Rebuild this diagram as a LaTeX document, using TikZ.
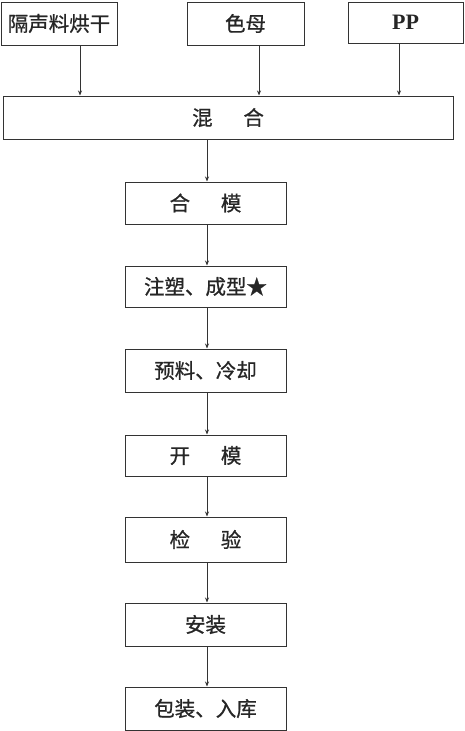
\documentclass[tikz,border=0pt]{standalone}
\usepackage{fontspec}
\setmainfont{Liberation Serif}
\newfontfamily\cjk[FakeBold=0.8]{Noto Sans CJK SC}
\usetikzlibrary{arrows.meta}
\begin{document}
\begin{tikzpicture}[x=1pt,y=-1pt,
  box/.style={draw=black!80,line width=1pt,rectangle,inner sep=0pt,font=\cjk\fontsize{20.5}{22}\selectfont,text=black!85},
  arr/.style={draw=black!80,line width=0.9pt,-{Stealth[length=5pt,width=4pt]}}]
\useasboundingbox (0,0) rectangle (465,731);
\node[box,minimum width=116pt,minimum height=43pt] (b1) at (59,23.5) {隔声料烘干};
\node[box,minimum width=117pt,minimum height=43pt] (b2) at (245.5,23.5) {色母};
\node[box,minimum width=115pt,minimum height=41pt,font=\bfseries\fontsize{22}{24}\selectfont] (b3) at (405.5,22.5) {PP};
\node[box,minimum width=450pt,minimum height=43pt] (mix) at (228,117.5) {混\hspace{1.5em}合};
\node[box,minimum width=161pt,minimum height=42pt] (m1) at (205.5,203) {合\hspace{1.5em}模};
\node[box,minimum width=161pt,minimum height=41pt] (m2) at (205.5,286.5) {注塑、成型★};
\node[box,minimum width=161pt,minimum height=43pt] (m3) at (205.5,370.5) {预料、冷却};
\node[box,minimum width=161pt,minimum height=41pt] (m4) at (205.5,455.5) {开\hspace{1.5em}模};
\node[box,minimum width=161pt,minimum height=45pt] (m5) at (205.5,539.5) {检\hspace{1.5em}验};
\node[box,minimum width=161pt,minimum height=43pt] (m6) at (205.5,624.5) {安装};
\node[box,minimum width=161pt,minimum height=43pt] (m7) at (205.5,708.5) {包装、入库};
\draw[arr] ([xshift=21pt]b1.south) -- ([xshift=21pt]b1.south |- mix.north);
\draw[arr] ([xshift=13.5pt]b2.south) -- ([xshift=13.5pt]b2.south |- mix.north);
\draw[arr] ([xshift=-6.5pt]b3.south) -- ([xshift=-6.5pt]b3.south |- mix.north);
\draw[arr] ([xshift=1.5pt]mix.south -| m1.north) -- ([xshift=1.5pt]m1.north);
\draw[arr] ([xshift=1.5pt]m1.south) -- ([xshift=1.5pt]m2.north);
\draw[arr] ([xshift=1.5pt]m2.south) -- ([xshift=1.5pt]m3.north);
\draw[arr] ([xshift=1.5pt]m3.south) -- ([xshift=1.5pt]m4.north);
\draw[arr] ([xshift=1.5pt]m4.south) -- ([xshift=1.5pt]m5.north);
\draw[arr] ([xshift=1.5pt]m5.south) -- ([xshift=1.5pt]m6.north);
\draw[arr] ([xshift=1.5pt]m6.south) -- ([xshift=1.5pt]m7.north);
\end{tikzpicture}
\end{document}
